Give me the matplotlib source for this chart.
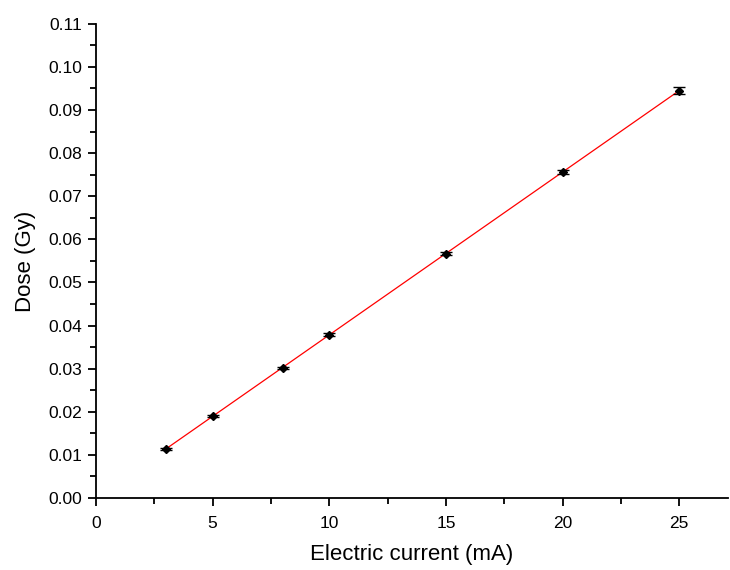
import numpy as np
import matplotlib.pyplot as plt
from matplotlib.ticker import MultipleLocator

plt.rcParams['font.family'] = ['Liberation Sans', 'DejaVu Sans']

# Datos
corriente = [3, 5, 8, 10, 15, 20, 25]  # mA
dosis = [0.01137, 0.0190, 0.0302, 0.0379, 0.0567, 0.0756, 0.0945]  # Gy
error = [0.0003, 0.0003, 0.0003, 0.0003, 0.0004, 0.0005, 0.0008]

# Ajuste lineal
pendiente, intercepto = np.polyfit(corriente, dosis, 1)
x_fit = np.array([corriente[0], corriente[-1]])
y_fit = pendiente * x_fit + intercepto

fig = plt.figure(figsize=(7.3, 5.7), dpi=100)
ax = fig.add_axes([0.1315, 0.1263, 0.866, 0.832])

ax.plot(x_fit, y_fit, color='red', linewidth=0.9, zorder=2)
ax.errorbar(corriente, dosis, yerr=error, fmt='D', color='black', markersize=4.5,
            capsize=4, elinewidth=1, capthick=1, zorder=3)

ax.set_xlim(0, 27.1)
ax.set_ylim(0, 0.11)
ax.xaxis.set_major_locator(MultipleLocator(5))
ax.xaxis.set_minor_locator(MultipleLocator(2.5))
ax.yaxis.set_major_locator(MultipleLocator(0.01))
ax.yaxis.set_minor_locator(MultipleLocator(0.005))
ax.yaxis.set_major_formatter(plt.FormatStrFormatter('%.2f'))

for lado in ['top', 'right']:
    ax.spines[lado].set_visible(False)
for lado in ['left', 'bottom']:
    ax.spines[lado].set_linewidth(1.3)

ax.tick_params(which='major', direction='out', length=6, width=1.3, labelsize=12.5)
ax.tick_params(which='minor', direction='out', length=4, width=1.3)
ax.tick_params(axis='x', which='major', pad=7)
ax.tick_params(axis='y', which='major', pad=4)

ax.set_xlabel('Electric current (mA)', fontsize=16, labelpad=9)
ax.set_ylabel('Dose (Gy)', fontsize=16, labelpad=9)

fig.savefig('out.png', dpi=100)
